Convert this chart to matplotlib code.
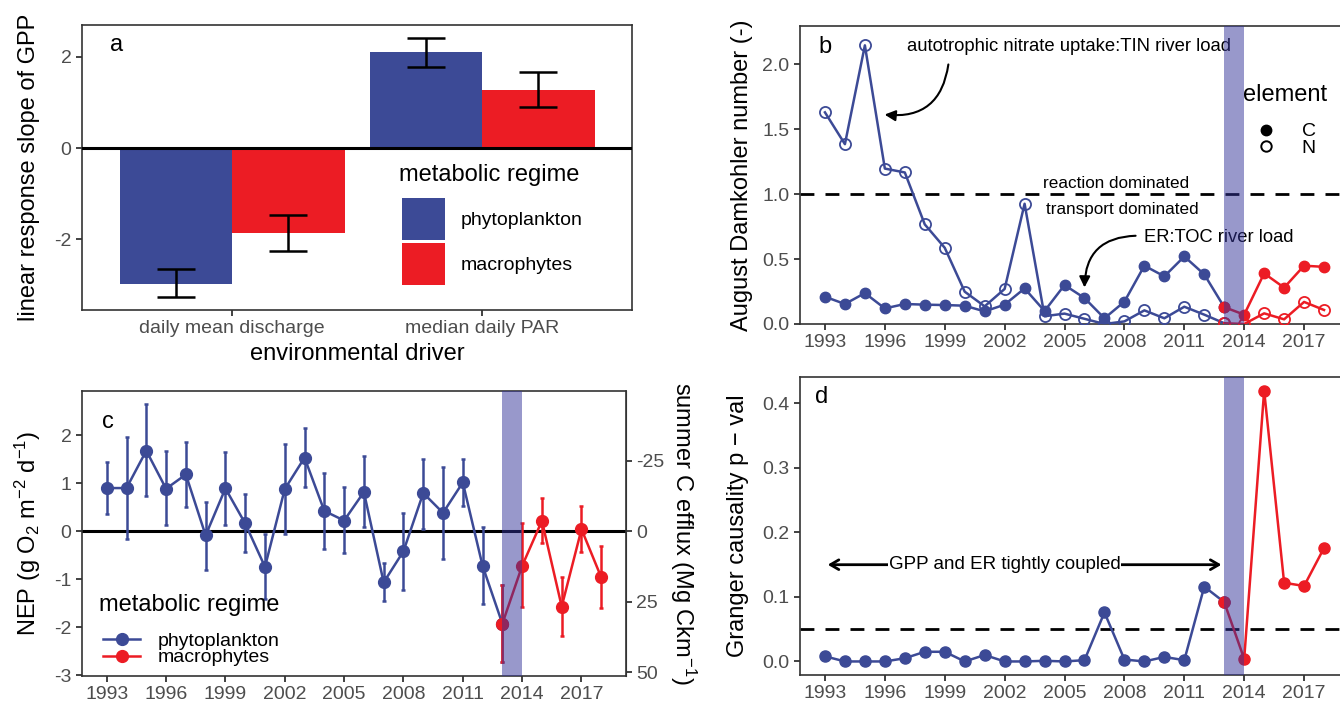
import matplotlib
matplotlib.use('Agg')
import matplotlib.pyplot as plt
from matplotlib.lines import Line2D
from matplotlib.patches import Patch
import numpy as np

plt.rcParams['font.family'] = ['Liberation Sans', 'DejaVu Sans']
plt.rcParams['mathtext.fontset'] = 'custom'
plt.rcParams['mathtext.rm'] = 'Liberation Sans'
plt.rcParams['mathtext.default'] = 'regular'
plt.rcParams['axes.unicode_minus'] = False

BLUE = '#3C4A96'
RED = '#EC1C24'
BAND = '#333399'
TICKCOL = '#4D4D4D'

# panel a: response slopes of GPP
drivers = ['daily mean discharge', 'median daily PAR']
slope_phyto = [-2.97, 2.10]
slope_phyto_lo = [-3.27, 1.78]
slope_phyto_hi = [-2.64, 2.42]
slope_macro = [-1.87, 1.27]
slope_macro_lo = [-2.26, 0.90]
slope_macro_hi = [-1.47, 1.67]

years = [1993, 1994, 1995, 1996, 1997, 1998, 1999, 2000, 2001, 2002, 2003, 2004, 2005,
         2006, 2007, 2008, 2009, 2010, 2011, 2012, 2013, 2014, 2015, 2016, 2017, 2018]
year_ticks = [1993, 1996, 1999, 2002, 2005, 2008, 2011, 2014, 2017]

# panel b: August Damkohler numbers
da_C = [0.21, 0.154, 0.238, 0.12, 0.154, 0.149, 0.146, 0.141, 0.097, 0.149, 0.274, 0.10, 0.30,
        0.20, 0.044, 0.172, 0.449, 0.367, 0.52, 0.382, 0.13, 0.072, 0.39, 0.28, 0.449, 0.44]
da_N = [1.63, 1.385, 2.146, 1.197, 1.167, 0.767, 0.587, 0.249, 0.136, 0.27, 0.926, 0.06, 0.08,
        0.04, 0.0, 0.02, 0.105, 0.044, 0.133, 0.072, 0.006, 0.0, 0.082, 0.036, 0.17, 0.108]

# panel c: NEP with error bars
nep = [0.897, 0.897, 1.676, 0.883, 1.18, -0.09, 0.89, 0.159, -0.745, 0.876, 1.53, 0.42, 0.22,
       0.814, -1.069, -0.42, 0.793, 0.38, 1.014, -0.724, -1.93, -0.724, 0.214, -1.572, 0.04, -0.966]
nep_lo = [0.352, -0.159, 0.738, 0.117, 0.51, -0.814, 0.117, -0.434, -1.414, -0.069, 0.91, -0.379, -0.448,
          0.083, -1.448, -1.22, 0.048, -0.572, 0.53, -1.517, -2.738, -1.58, -0.255, -2.19, -0.434, -1.607]
nep_hi = [1.434, 1.966, 2.64, 1.676, 1.862, 0.614, 1.655, 0.766, -0.069, 1.82, 2.15, 1.214, 0.91,
          1.566, -0.662, 0.379, 1.503, 1.345, 1.51, 0.083, -1.12, 0.165, 0.687, -0.95, 0.517, -0.31]

# panel d: Granger causality p-values
granger_p = [0.008, 0.0, 0.0, 0.0, 0.005, 0.015, 0.015, 0.0, 0.01, 0.0, 0.0, 0.001, 0.0,
             0.002, 0.076, 0.003, 0.0, 0.007, 0.002, 0.116, 0.092, 0.004, 0.42, 0.122, 0.117, 0.176]

W, H = 1340, 703
fig = plt.figure(figsize=(W / 100, H / 100), dpi=100)


def add_ax(left, top, right, bottom):
    return fig.add_axes([left / W, 1 - bottom / H, (right - left) / W, (bottom - top) / H])


def style(ax):
    for s in ax.spines.values():
        s.set_color('#333333')
        s.set_linewidth(1.2)
    ax.tick_params(length=4, width=1.3, color='#333333', labelcolor=TICKCOL, labelsize=14)


P = slice(0, 21)   # phytoplankton years 1993-2013
M = slice(20, 26)  # macrophyte years 2013-2018
TITLE = 17

# ---------- a ----------
ax = add_ax(82, 25, 632, 310)
style(ax)
x = np.arange(len(drivers))
w = 0.45
ax.bar(x - w / 2, slope_phyto, w, color=BLUE, zorder=2)
ax.bar(x + w / 2, slope_macro, w, color=RED, zorder=2)
ax.errorbar(x - w / 2, slope_phyto,
            yerr=[np.array(slope_phyto) - slope_phyto_lo, np.array(slope_phyto_hi) - slope_phyto],
            fmt='none', ecolor='black', elinewidth=1.8, capsize=13.5, capthick=1.8, zorder=3)
ax.errorbar(x + w / 2, slope_macro,
            yerr=[np.array(slope_macro) - slope_macro_lo, np.array(slope_macro_hi) - slope_macro],
            fmt='none', ecolor='black', elinewidth=1.8, capsize=13.5, capthick=1.8, zorder=3)
ax.axhline(0, color='black', lw=2.2, zorder=4)
ax.set_xlim(-0.6, 1.6)
ax.set_ylim(-3.55, 2.70)
ax.set_xticks(x)
ax.set_xticklabels(drivers)
ax.set_yticks([-2, 0, 2])
ax.set_xlabel('environmental driver', fontsize=TITLE, labelpad=4)
ax.set_ylabel('linear response slope of GPP', fontsize=TITLE)
ax.yaxis.set_label_coords(-0.076, 0.5)
ax.text(0.062, 0.93, 'a', transform=ax.transAxes, fontsize=17, ha='center', va='center')
ax.text(0.577, 0.474, 'metabolic regime', transform=ax.transAxes, fontsize=TITLE, ha='left', va='center')
ax.legend([Patch(facecolor=BLUE), Patch(facecolor=RED)], ['phytoplankton', 'macrophytes'],
          fontsize=14, frameon=False, loc='upper left', bbox_to_anchor=(0.565, 0.427),
          borderpad=0, handlelength=2.2, handleheight=2.95, handletextpad=0.8, labelspacing=0.15)

# ---------- b ----------
ax = add_ax(800, 26, 1349, 324)
style(ax)
ax.axhline(1.0, color='black', lw=2, ls=(0, (5, 4)), zorder=1)
ax.plot(years[P], da_C[P], '-o', color=BLUE, lw=1.8, ms=7.5, zorder=3)
ax.plot(years[P], da_N[P], '-o', color=BLUE, lw=1.8, ms=8, mfc='none', mew=1.3, zorder=3)
ax.plot(years[M], da_C[M], '-o', color=RED, lw=1.8, ms=7.5, zorder=3)
ax.plot(years[M], da_N[M], '-o', color=RED, lw=1.8, ms=8, mfc='none', mew=1.3, zorder=3)
ax.axvspan(2013, 2014, color=BAND, alpha=0.5, lw=0, zorder=5)
ax.set_xlim(1991.75, 2019.25)
ax.set_ylim(0, 2.295)
ax.set_xticks(year_ticks)
ax.set_yticks([0, 0.5, 1.0, 1.5, 2.0])
ax.set_yticklabels(['0.0', '0.5', '1.0', '1.5', '2.0'])
ax.set_ylabel('August Damkohler number (-)', fontsize=TITLE)
ax.yaxis.set_label_coords(-0.086, 0.5)
ax.text(0.046, 0.929, 'b', transform=ax.transAxes, fontsize=17, ha='center', va='center')
ax.text(2005.2, 2.14, 'autotrophic nitrate uptake:TIN river load', fontsize=13.3, ha='center', va='center')
ax.text(2007.6, 1.085, 'reaction dominated', fontsize=12.3, ha='center', va='center')
ax.text(2007.9, 0.885, 'transport dominated', fontsize=12.3, ha='center', va='center')
ax.text(2009.0, 0.67, 'ER:TOC river load', fontsize=13.2, ha='left', va='center')
ax.annotate('', xy=(1995.85, 1.615), xytext=(1999.2, 2.02),
            arrowprops=dict(arrowstyle='-|>', connectionstyle='arc3,rad=-0.5', color='black',
                            lw=1.5, mutation_scale=16))
ax.annotate('', xy=(2006.0, 0.26), xytext=(2008.7, 0.68),
            arrowprops=dict(arrowstyle='-|>', connectionstyle='arc3,rad=0.5', color='black',
                            lw=1.5, mutation_scale=16))
ax.text(0.807, 0.768, 'element', transform=ax.transAxes, fontsize=TITLE, ha='left', va='center')
ax.legend([Line2D([], [], marker='o', color='black', ls='none', ms=7.5),
           Line2D([], [], marker='o', color='black', ls='none', ms=7.5, mfc='none', mew=1.4)],
          ['C', 'N'], fontsize=14, frameon=False,
          loc='upper left', bbox_to_anchor=(0.802, 0.708), borderpad=0,
          handlelength=1.65, handletextpad=1.0, labelspacing=-0.05)

# ---------- c ----------
ax = add_ax(82, 391, 626, 676)
style(ax)
ax.axhline(0, color='black', lw=2.2, zorder=2)
yerr = [np.array(nep) - nep_lo, np.array(nep_hi) - nep]
ax.errorbar(years[P], nep[P], yerr=[yerr[0][P], yerr[1][P]], fmt='-o', color=BLUE, lw=1.8,
            elinewidth=1.8, capsize=1.5, capthick=1.8, ms=8.5, zorder=3)
ax.errorbar(years[M], nep[M], yerr=[yerr[0][M], yerr[1][M]], fmt='-o', color=RED, lw=1.8,
            elinewidth=1.8, capsize=1.5, capthick=1.8, ms=8.5, zorder=3)
ax.axvspan(2013, 2014, color=BAND, alpha=0.5, lw=0, zorder=5)
ax.set_xlim(1991.75, 2019.25)
ax.set_ylim(-3.02, 2.92)
ax.set_xticks(year_ticks)
ax.set_yticks([-3, -2, -1, 0, 1, 2])
ax.set_ylabel(r'NEP (g O$_2$ m$^{-2}$ d$^{-1}$)', fontsize=TITLE)
ax.yaxis.set_label_coords(-0.072, 0.5)
ax.text(0.048, 0.89, 'c', transform=ax.transAxes, fontsize=17, ha='center', va='center')
sec = ax.secondary_yaxis('right', functions=(lambda y: -17 * y, lambda y: -y / 17))
sec.set_yticks([-25, 0, 25, 50])
sec.tick_params(length=4, width=1.3, color='#333333', labelcolor=TICKCOL, labelsize=14)
sec.spines['right'].set_color('#333333')
sec.set_ylabel(r'summer C efflux (Mg Ckm$^{-1}$)', fontsize=TITLE, rotation=270, labelpad=24)
ax.text(0.031, 0.249, 'metabolic regime', transform=ax.transAxes, fontsize=TITLE, ha='left', va='center')
ax.legend([Line2D([], [], marker='o', color=BLUE, lw=1.8, ms=8.5),
           Line2D([], [], marker='o', color=RED, lw=1.8, ms=8.5)],
          ['phytoplankton', 'macrophytes'], fontsize=14, frameon=False,
          loc='upper left', bbox_to_anchor=(0.021, 0.188), borderpad=0,
          handlelength=1.9, handletextpad=0.9, labelspacing=-0.05)

# ---------- d ----------
ax = add_ax(800, 377, 1349, 675)
style(ax)
ax.axhline(0.05, color='black', lw=2, ls=(0, (5, 4)), zorder=1)
ax.plot(years[P], granger_p[P], '-o', color=BLUE, lw=1.8, ms=8, zorder=3)
ax.plot(years[M], granger_p[M], '-o', color=RED, lw=1.8, ms=8, zorder=3)
ax.axvspan(2013, 2014, color=BAND, alpha=0.5, lw=0, zorder=5)
ax.annotate('', xy=(1993, 0.15), xytext=(2013, 0.15),
            arrowprops=dict(arrowstyle='<->,head_length=0.6,head_width=0.35', color='black', lw=2))
ax.text(2002.0, 0.15, 'GPP and ER tightly coupled', fontsize=13.5, ha='center', va='center',
        bbox=dict(facecolor='white', edgecolor='none', pad=0.5), zorder=4)
ax.set_xlim(1991.75, 2019.25)
ax.set_ylim(-0.021, 0.441)
ax.set_xticks(year_ticks)
ax.set_yticks([0, 0.1, 0.2, 0.3, 0.4])
ax.set_yticklabels(['0.0', '0.1', '0.2', '0.3', '0.4'])
ax.set_ylabel('Granger causality p \u2212 val', fontsize=TITLE)
ax.yaxis.set_label_coords(-0.093, 0.5)
ax.text(0.04, 0.933, 'd', transform=ax.transAxes, fontsize=17, ha='center', va='center')

fig.savefig('out.png', dpi=100)
